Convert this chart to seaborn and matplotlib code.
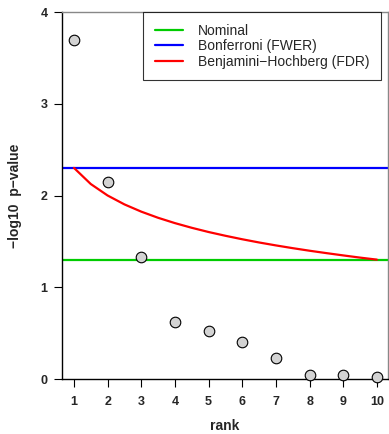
import matplotlib
matplotlib.use("Agg")
import matplotlib.pyplot as plt
import seaborn as sns
import pandas as pd
from matplotlib.lines import Line2D

ranks = [1, 2, 3, 4, 5, 6, 7, 8, 9, 10]
neg_log_p = [3.70, 2.15, 1.33, 0.62, 0.52, 0.40, 0.23, 0.04, 0.04, 0.025]
nominal_level = 1.30
bonferroni_level = 2.30
bh_rank = [1, 1.5, 2, 2.5, 3, 3.5, 4, 4.5, 5, 5.5, 6, 6.5, 7, 7.5, 8, 8.5, 9, 9.5, 10]
bh_level = [2.301, 2.125, 2.0, 1.903, 1.824, 1.757, 1.699, 1.648, 1.602, 1.561,
            1.523, 1.488, 1.456, 1.426, 1.398, 1.372, 1.347, 1.323, 1.301]
legend_labels = ["Nominal", "Bonferroni (FWER)", "Benjamini\u2212Hochberg (FDR)"]
colors = ["#00CC00", "#0000FF", "#FF0000"]
y_ticks = [0, 1, 2, 3, 4]

sns.set_theme(style="white")
plt.rcParams['font.family'] = ['Liberation Sans', 'DejaVu Sans']

fig = plt.figure(figsize=(3.89, 4.34), dpi=100)
ax = fig.add_axes([62/389, 55/434, 326/389, 367/434])

pts = pd.DataFrame({"rank": ranks, "p": neg_log_p})
bh = pd.DataFrame({"rank": bh_rank, "p": bh_level})

ax.axhline(nominal_level, color=colors[0], lw=1.6, zorder=2)
ax.axhline(bonferroni_level, color=colors[1], lw=1.6, zorder=2)
sns.lineplot(data=bh, x="rank", y="p", color=colors[2], lw=1.6, ax=ax, zorder=2)
sns.scatterplot(data=pts, x="rank", y="p", s=58, color="#D3D3D3",
                edgecolor="black", linewidth=0.8, ax=ax, zorder=3, clip_on=False)

ax.set_xlim(0.645, 10.33)
ax.set_ylim(0, 4)
ax.set_xticks(ranks)
ax.set_xticklabels([str(r) for r in ranks], fontweight="bold", fontsize=9)
ax.set_yticks(y_ticks)
ax.set_yticklabels([str(t) for t in y_ticks], fontweight="bold", fontsize=9)
ax.tick_params(axis="both", direction="out", length=5.5, width=0.8, color="black",
               bottom=True, left=True, pad=5)
ax.tick_params(axis="x", pad=7)
ax.set_xlabel("rank", fontweight="bold", fontsize=10, labelpad=8)
ax.set_ylabel("\u2212log10  p\u2212value", fontweight="bold", fontsize=10, labelpad=13)

for side in ["left", "bottom"]:
    ax.spines[side].set_color("black")
    ax.spines[side].set_linewidth(1.0)
for side in ["top", "right"]:
    ax.spines[side].set_color("#888888")
    ax.spines[side].set_linewidth(1.0)

handles = [Line2D([0], [0], color=c, lw=1.6) for c in colors]
leg = ax.legend(handles, legend_labels, loc="upper left", bbox_to_anchor=(0.2485, 1.0),
                borderaxespad=0, fontsize=10, frameon=True, fancybox=False,
                handlelength=2.0, handletextpad=1.1, labelspacing=0.1,
                borderpad=0.85)
leg.get_frame().set_edgecolor("black")
leg.get_frame().set_linewidth(0.8)

fig.savefig("out.png", dpi=100)
